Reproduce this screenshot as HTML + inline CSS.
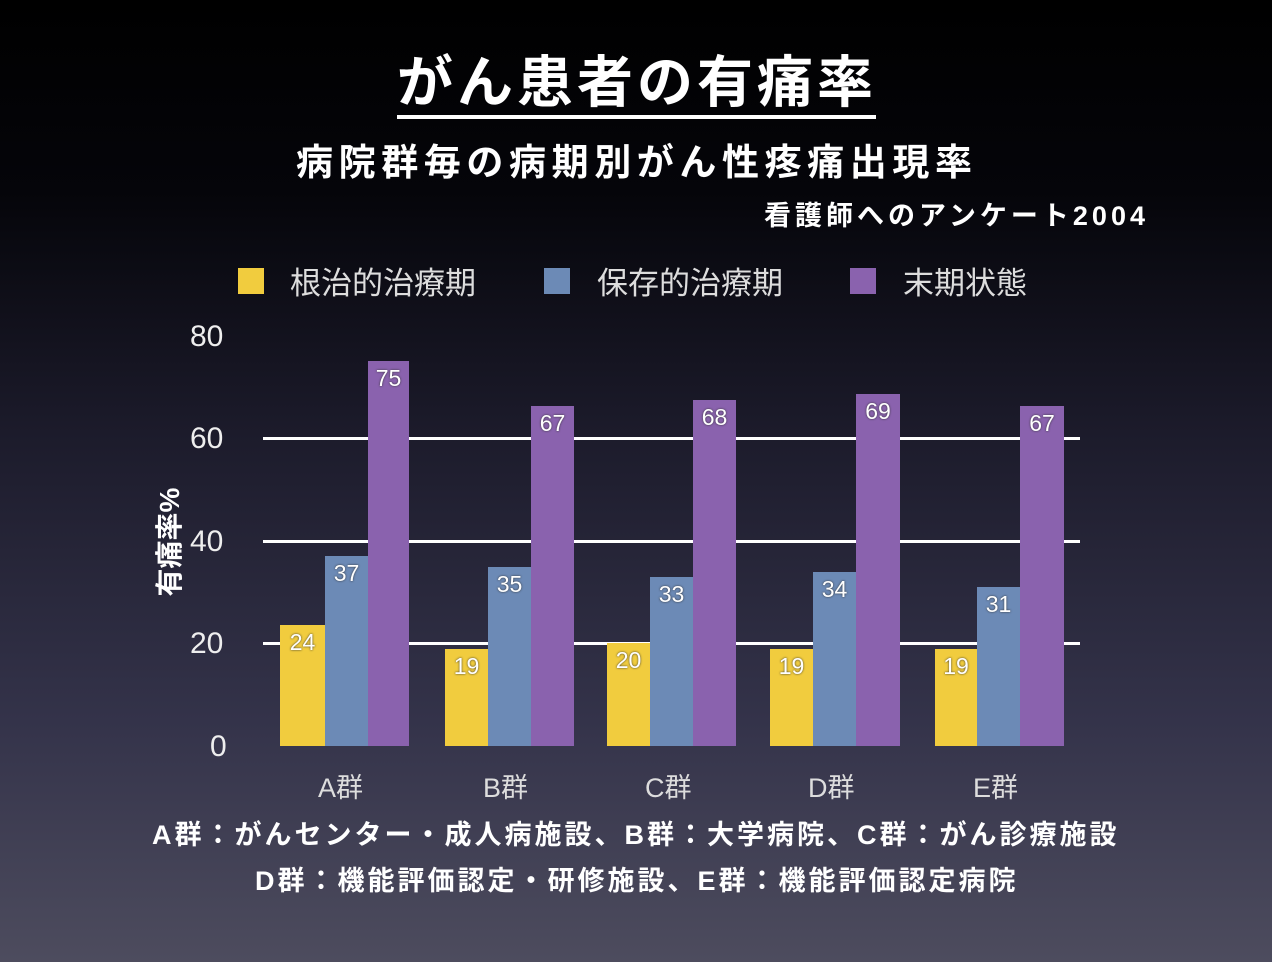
<!DOCTYPE html>
<html><head><meta charset="utf-8"><style>
body{margin:0;width:1272px;height:962px;overflow:hidden;background:linear-gradient(#000 0%,#05050a 20%,#1c1b2b 45%,#34334a 75%,#4d4c5e 100%);font-family:"Liberation Sans","Noto Sans CJK JP",sans-serif;color:#fff;position:relative}
.a{position:absolute;white-space:nowrap}
.g{position:absolute;left:263px;width:817px;height:3px;background:#fff}
.b{position:absolute;bottom:216px}
.y{background:#f1cc3e}.bl{background:#6c8ab6}.p{background:#8a62ae}
.v{position:absolute;top:4px;width:100%;text-align:center;font-size:23px;color:#fff;text-shadow:0 0 2px #333}
.t{font-size:30px;color:#eee}
.x{font-size:27px;color:#ddd;top:766px}
</style></head><body>
<div class="a" style="left:397px;top:38px;font-size:56px;font-weight:bold;letter-spacing:4px">がん患者の有痛率</div>
<div class="a" style="left:397px;top:115px;width:479px;height:4px;background:#fff"></div>
<div class="a" style="left:296px;top:132px;font-size:37px;font-weight:bold;letter-spacing:5.6px">病院群毎の病期別がん性疼痛出現率</div>
<div class="a" style="left:764px;top:194px;font-size:27px;font-weight:bold;letter-spacing:4px">看護師へのアンケート2004</div>
<div class="a" style="left:238px;top:268px;width:26px;height:26px;background:#f1cc3e"></div>
<div class="a" style="left:290px;top:258px;font-size:31px;color:#ddd">根治的治療期</div>
<div class="a" style="left:544px;top:268px;width:26px;height:26px;background:#6c8ab6"></div>
<div class="a" style="left:597px;top:258px;font-size:31px;color:#ddd">保存的治療期</div>
<div class="a" style="left:850px;top:268px;width:26px;height:26px;background:#8a62ae"></div>
<div class="a" style="left:903px;top:258px;font-size:31px;color:#ddd">末期状態</div>
<div class="a t" style="left:190px;top:320px">80</div>
<div class="a t" style="left:190px;top:422px">60</div>
<div class="a t" style="left:190px;top:525px">40</div>
<div class="a t" style="left:190px;top:627px">20</div>
<div class="a t" style="left:210px;top:730px">0</div>
<div class="a" style="left:108px;top:522px;font-size:28px;font-weight:bold;transform:rotate(-90deg);transform-origin:center;width:120px;text-align:center">有痛率%</div>
<div class="g" style="top:437px"></div>
<div class="g" style="top:540px"></div>
<div class="g" style="top:642px"></div>
<div class="b y" style="left:280px;width:45px;height:121px"><span class="v">24</span></div>
<div class="b bl" style="left:325px;width:43px;height:190px"><span class="v">37</span></div>
<div class="b p" style="left:368px;width:41px;height:385px"><span class="v">75</span></div>
<div class="b y" style="left:445px;width:43px;height:97px"><span class="v">19</span></div>
<div class="b bl" style="left:488px;width:43px;height:179px"><span class="v">35</span></div>
<div class="b p" style="left:531px;width:43px;height:340px"><span class="v">67</span></div>
<div class="b y" style="left:607px;width:43px;height:103px"><span class="v">20</span></div>
<div class="b bl" style="left:650px;width:43px;height:169px"><span class="v">33</span></div>
<div class="b p" style="left:693px;width:43px;height:346px"><span class="v">68</span></div>
<div class="b y" style="left:770px;width:43px;height:97px"><span class="v">19</span></div>
<div class="b bl" style="left:813px;width:43px;height:174px"><span class="v">34</span></div>
<div class="b p" style="left:856px;width:44px;height:352px"><span class="v">69</span></div>
<div class="b y" style="left:935px;width:42px;height:97px"><span class="v">19</span></div>
<div class="b bl" style="left:977px;width:43px;height:159px"><span class="v">31</span></div>
<div class="b p" style="left:1020px;width:44px;height:340px"><span class="v">67</span></div>
<div class="a x" style="left:318px">A群</div>
<div class="a x" style="left:483px">B群</div>
<div class="a x" style="left:645px">C群</div>
<div class="a x" style="left:808px">D群</div>
<div class="a x" style="left:973px">E群</div>
<div class="a" style="left:152px;top:813px;font-size:27px;font-weight:bold;letter-spacing:3px">A群：がんセンター・成人病施設、B群：大学病院、C群：がん診療施設</div>
<div class="a" style="left:255px;top:859px;font-size:27px;font-weight:bold;letter-spacing:3px">D群：機能評価認定・研修施設、E群：機能評価認定病院</div>
</body></html>
